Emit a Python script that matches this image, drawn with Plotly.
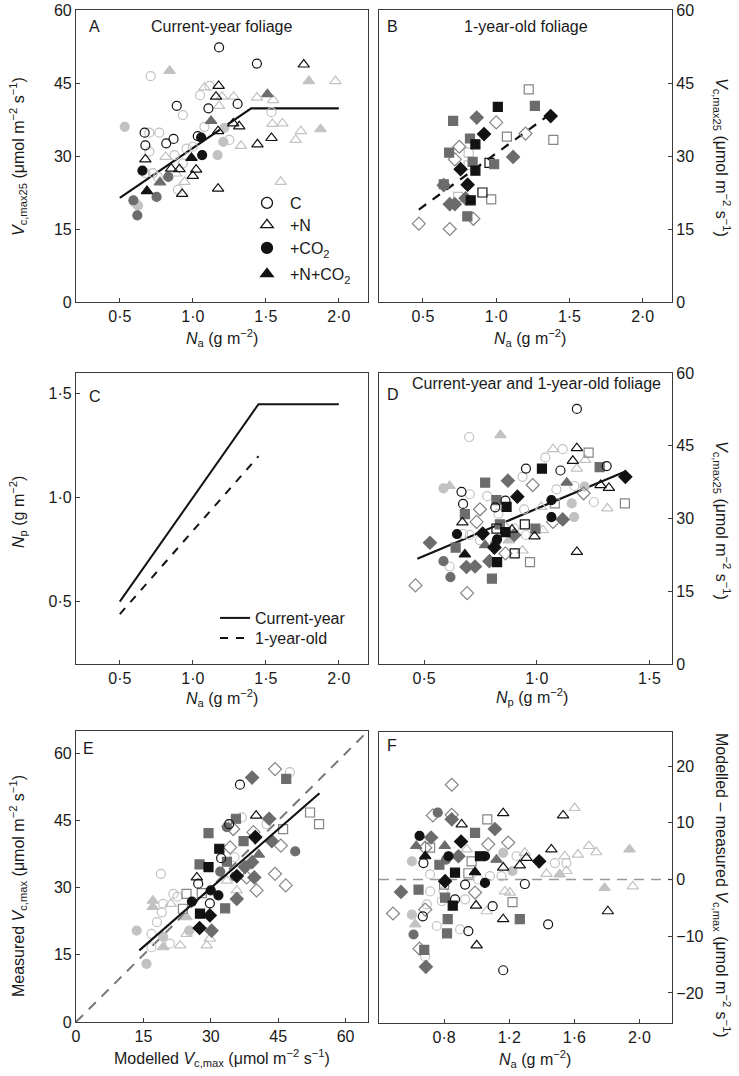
import plotly.graph_objects as go

W, H = 739, 1076

# ---------------- Panel A: current-year foliage, Vcmax25 vs Na ----------------
A_oc_k_x = [1.18, 0.89, 1.107, 1.307, 1.034, 0.67, 0.675, 0.818, 0.868, 1.439]
A_oc_k_y = [52.3, 40.3, 39.8, 40.7, 34.1, 34.8, 32.2, 32.6, 33.5, 49.0]
A_ot_k_x = [1.76, 1.177, 1.159, 1.277, 1.318, 1.173, 1.443, 1.539, 0.675, 0.852, 0.909, 0.927, 1.023, 1.0, 1.173]
A_ot_k_y = [48.8, 44.4, 42.2, 36.7, 36.1, 35.1, 32.4, 33.7, 29.3, 27.4, 27.3, 22.2, 27.2, 25.9, 23.3]
A_fc_k_x = [0.655, 1.057, 1.064]
A_fc_k_y = [27.0, 33.8, 30.2]
A_ft_k_x = [0.686, 0.991]
A_ft_k_y = [22.8, 29.6]
A_fc_d_x = [0.593, 0.62, 0.752, 0.832]
A_fc_d_y = [20.9, 17.8, 21.6, 25.7]
A_ft_d_x = [1.125, 1.511, 0.775]
A_ft_d_y = [37.2, 42.7, 24.6]
A_fc_l_x = [0.534, 0.625, 1.209, 1.17, 1.216]
A_fc_l_y = [36.0, 19.8, 32.9, 30.2, 35.8]
A_ft_l_x = [0.841, 1.795, 1.875]
A_ft_l_y = [47.5, 45.4, 35.5]
A_oc_l_x = [0.711, 1.114, 1.05, 0.932, 1.539, 0.702, 0.77, 0.957, 1.08, 1.25, 0.702, 0.727, 0.761, 0.898, 0.932, 0.875, 0.602, 1.0, 0.675]
A_oc_l_y = [46.4, 44.4, 42.5, 38.4, 39.0, 34.8, 34.8, 31.5, 36.0, 33.3, 30.9, 26.5, 25.7, 23.1, 28.5, 30.2, 20.4, 31.9, 26.5]
A_ot_l_x = [1.08, 1.18, 1.2, 1.28, 1.44, 1.55, 1.545, 1.614, 1.705, 1.74, 1.977, 1.602, 1.33, 0.814, 0.943, 0.886]
A_ot_l_y = [44.1, 40.3, 42.2, 42.2, 42.0, 41.5, 36.6, 36.7, 33.3, 35.1, 45.4, 24.7, 32.1, 29.8, 24.7, 26.4]
A_fit_x = [0.5, 1.4, 2.0]
A_fit_y = [21.4, 39.8, 39.8]

# ---------------- Panel B: 1-year-old foliage ----------------
B_os_m_x = [1.222, 1.073, 1.39, 0.966]
B_os_m_y = [43.7, 34.0, 33.3, 21.1]
B_os_k_x = [0.954, 0.906]
B_os_k_y = [28.6, 22.5]
B_os_l_x = [0.812, 0.812, 0.74]
B_os_l_y = [30.7, 28.1, 21.6]
B_od_x = [0.472, 0.683, 0.844, 1.0, 0.748, 0.718, 1.2]
B_od_y = [16.1, 15.0, 17.1, 36.9, 31.9, 29.3, 34.6]
B_fs_d_x = [0.706, 0.821, 0.679, 0.839, 0.986, 0.642, 1.264, 0.803]
B_fs_d_y = [37.2, 33.6, 30.7, 28.8, 28.3, 24.2, 40.3, 17.6]
B_fs_k_x = [1.011, 0.858, 0.858, 0.826]
B_fs_k_y = [40.1, 32.4, 27.0, 20.9]
B_fd_d_x = [0.867, 1.115, 0.642, 0.683, 0.718, 0.791]
B_fd_d_y = [37.9, 29.8, 24.0, 20.1, 20.1, 21.3]
B_fd_k_x = [1.372, 0.917, 0.757, 0.805]
B_fd_k_y = [38.2, 34.5, 27.3, 24.1]
B_fit_x = [0.472, 1.372]
B_fit_y = [19.0, 38.7]

# ---------------- Panel C: Np vs Na ----------------
C_cur_x = [0.5, 1.45, 2.0]
C_cur_y = [0.5, 1.45, 1.45]
C_old_x = [0.5, 1.45]
C_old_y = [0.44, 1.2]

# ---------------- Panel D: Vcmax25 vs Np ----------------
D_oc_k_x = [1.178, 0.952, 1.105, 1.31, 0.816, 0.861, 0.666, 0.673]
D_oc_k_y = [52.6, 40.3, 39.9, 40.8, 32.3, 33.7, 35.5, 33.0]
D_oc_l_x = [0.70, 0.937, 1.038, 1.115, 0.78, 0.703, 0.944, 1.087, 1.167, 1.253, 0.952, 0.748, 0.613, 0.83, 0.9, 0.703, 0.673]
D_oc_l_y = [46.8, 38.6, 42.6, 44.3, 34.6, 35.0, 31.9, 36.0, 36.7, 33.4, 26.6, 25.5, 20.1, 31.0, 27.9, 26.6, 26.8]
D_ot_k_x = [1.178, 1.16, 1.283, 1.32, 1.178, 0.67, 0.99, 0.89]
D_ot_k_y = [44.5, 41.9, 36.9, 36.3, 23.1, 29.2, 26.3, 27.7]
D_ot_l_x = [1.072, 1.178, 1.215, 1.313, 1.02, 1.027, 0.861, 0.937]
D_ot_l_y = [44.3, 40.3, 42.1, 32.1, 32.4, 27.6, 28.3, 23.4]
D_ft_l_x = [0.839, 0.613, 0.876]
D_ft_l_y = [47.2, 36.7, 25.5]
D_ft_d_x = [1.133, 0.771]
D_ft_d_y = [37.4, 24.5]
D_ft_k_x = [0.681]
D_ft_k_y = [22.6]
D_fc_k_x = [0.646, 1.065, 1.065, 0.824]
D_fc_k_y = [26.8, 33.8, 30.3, 25.7]
D_fc_d_x = [0.586, 0.617, 0.816]
D_fc_d_y = [21.2, 17.9, 24.8]
D_fc_l_x = [0.586, 1.155, 1.166, 1.212]
D_fc_l_y = [36.2, 33.1, 30.3, 36.6]
D_os_m_x = [1.23, 1.391, 0.97, 1.08]
D_os_m_y = [43.6, 33.1, 21.0, 33.1]
D_os_k_x = [0.947, 0.902, 0.821]
D_os_k_y = [28.8, 22.8, 27.9]
D_od_x = [0.462, 0.691, 0.982, 1.208, 0.748, 0.733, 0.861, 1.072]
D_od_y = [16.2, 14.6, 36.9, 35.2, 31.9, 29.3, 22.8, 29.3]
D_fs_d_x = [0.771, 0.821, 0.681, 0.836, 0.994, 0.64, 0.801, 1.279]
D_fs_d_y = [37.4, 33.8, 30.9, 28.8, 27.9, 24.0, 17.6, 40.6]
D_fs_k_x = [1.023, 0.866, 0.861, 0.824]
D_fs_k_y = [40.3, 32.4, 27.2, 21.0]
D_fd_d_x = [0.526, 0.872, 1.115, 0.688, 0.726, 0.79, 0.9]
D_fd_d_y = [25.0, 37.8, 29.8, 20.0, 20.1, 21.2, 26.6]
D_fd_k_x = [1.393, 0.914, 0.76, 0.812]
D_fd_k_y = [38.6, 34.5, 26.9, 24.0]
D_fit_x = [0.47, 1.393]
D_fit_y = [21.7, 39.7]

# ---------------- Panel E: measured vs modelled Vcmax ----------------
E_oc_k_x = [36.5, 27.2, 32.3, 34.1, 29.8]
E_oc_k_y = [53.0, 30.9, 36.6, 44.2, 26.5]
E_oc_l_x = [18.9, 22.6, 19.1, 18.0, 16.8, 16.8, 20.9, 21.7, 36.9, 42.4, 47.6, 35.3, 19.4]
E_oc_l_y = [33.1, 28.0, 24.5, 22.3, 19.7, 16.7, 17.5, 28.6, 45.7, 44.2, 55.8, 36.8, 26.4]
E_ot_k_x = [40.1, 26.9]
E_ot_k_y = [46.1, 32.3]
E_ot_l_x = [33.6, 21.1, 23.2, 29.1, 29.8, 35.8, 33.6, 24.6]
E_ot_l_y = [44.2, 26.4, 17.1, 17.1, 18.6, 29.4, 31.6, 19.7]
E_ft_l_x = [17.1, 17.1, 19.4, 24.6]
E_ft_l_y = [27.1, 25.7, 16.7, 23.4]
E_ft_d_x = [40.7]
E_ft_d_y = [37.4]
E_fc_l_x = [13.5, 15.7, 19.4, 25.2]
E_fc_l_y = [20.4, 13.0, 19.0, 20.4]
E_fc_d_x = [33.6, 32.1, 35.4, 48.8]
E_fc_d_y = [43.5, 33.6, 32.5, 38.1]
E_fc_k_x = [25.8, 30.0, 31.7]
E_fc_k_y = [26.9, 29.4, 28.3]
E_os_x = [52.1, 54.1, 46.1, 24.6, 23.8, 28.0]
E_os_y = [46.8, 44.2, 43.1, 28.6, 25.3, 28.8]
E_fs_d_x = [29.5, 27.5, 35.6, 37.3, 33.6, 33.2, 46.8]
E_fs_d_y = [42.2, 35.2, 45.4, 40.4, 35.8, 25.4, 54.3]
E_fs_k_x = [31.9, 29.5, 27.6]
E_fs_k_y = [38.7, 34.6, 24.2]
E_od_x = [44.3, 34.3, 39.5, 45.6, 44.3, 46.7, 40.2, 38.0, 35.0]
E_od_y = [56.5, 39.0, 42.4, 39.4, 33.1, 30.5, 29.4, 32.3, 43.1]
E_fd_d_x = [39.2, 43.0, 43.6, 39.2, 39.7, 35.8, 30.2, 37.6]
E_fd_d_y = [54.6, 45.4, 40.4, 35.7, 32.3, 27.5, 20.4, 34.6]
E_fd_k_x = [39.9, 27.5, 29.8, 35.8]
E_fd_k_y = [41.3, 21.0, 23.8, 32.6]
E_one_x = [0, 65]
E_one_y = [0, 65]
E_fit_x = [14.1, 54.2]
E_fit_y = [16.0, 51.1]

# ---------------- Panel F: residuals vs Na ----------------
F_od_x = [0.847, 0.731, 0.847, 1.071, 1.194, 0.99, 0.486, 0.649, 0.684, 0.684]
F_od_y = [16.7, 11.3, 11.4, 6.2, 6.5, -2.3, -6.0, -12.2, -5.3, 5.6]
F_fd_d_x = [0.847, 1.112, 0.72, 0.888, 0.535, 0.688]
F_fd_d_y = [10.6, 8.9, 7.4, 4.1, -2.2, -15.4]
F_fd_k_x = [0.904, 0.806, 1.384]
F_fd_k_y = [6.7, -0.3, 3.2]
F_oc_l_x = [1.48, 1.551, 1.245, 1.153, 0.714, 0.714, 0.796, 0.786, 0.929, 1.01, 0.755, 0.684, 0.898, 0.694, 1.082]
F_oc_l_y = [2.9, 2.9, 4.1, 0.6, 0.9, -2.1, -2.1, -3.8, -3.5, 0.0, -8.2, -13.6, -8.8, -4.4, 0.6]
F_oc_k_x = [0.673, 0.669, 0.867, 0.949, 1.098, 1.296, 1.439, 1.163, 0.929]
F_oc_k_y = [2.9, -6.5, -3.5, -9.1, -4.7, -0.8, -7.9, -16.0, -0.9]
F_fc_k_x = [0.649, 0.827, 1.051, 1.051]
F_fc_k_y = [7.7, 4.1, 4.1, -0.6]
F_fc_d_x = [0.761, 0.612, 0.812]
F_fc_d_y = [11.8, -9.7, 3.5]
F_fc_l_x = [0.602, 0.602, 1.163, 1.22]
F_fc_l_y = [3.2, -6.2, 4.7, 1.5]
F_ot_k_x = [1.163, 1.531, 1.459, 1.306, 1.265, 1.163, 1.806, 0.996, 1.163, 1.0, 0.908]
F_ot_k_y = [11.7, 11.3, 5.3, 3.8, 2.5, 2.1, -5.6, -4.6, -7.0, -11.6, 9.7]
F_ot_l_x = [1.602, 1.541, 1.622, 1.69, 1.735, 1.551, 1.429, 1.959, 1.173, 1.204, 1.061, 1.296, 0.939]
F_ot_l_y = [12.6, 4.1, 4.4, 5.9, 4.8, 1.5, 1.0, -1.2, -2.1, -2.3, -5.6, 4.7, 5.3]
F_ft_l_x = [1.939, 1.786, 1.51, 0.622]
F_ft_l_y = [5.3, -1.5, 0.9, -7.9]
F_ft_d_x = [0.629, 1.122, 0.804]
F_ft_d_y = [5.9, 3.5, 5.9]
F_ft_k_x = [0.684, 0.99]
F_ft_k_y = [4.1, 1.3]
F_os_x = [1.065, 0.969, 0.949, 1.22, 0.714, 0.8]
F_os_y = [10.6, 3.2, 1.1, -4.0, 5.6, -0.9]
F_fs_d_x = [0.99, 0.771, 0.643, 0.806, 0.822, 0.818, 0.678, 1.265]
F_fs_d_y = [8.2, 2.6, -1.8, -3.2, -7.0, -9.5, -12.4, -7.0]
F_fs_k_x = [0.867, 1.02, 0.853]
F_fs_k_y = [1.2, 4.1, -4.6]
F_zero_x = [0.4, 2.2]
F_zero_y = [0, 0]

# ---------------- tick labels ----------------
na_ticks = [0.5, 1.0, 1.5, 2.0]
na_labels = ["0·5", "1·0", "1·5", "2·0"]
v_ticks = [0, 15, 30, 45, 60]
v_labels = ["0", "15", "30", "45", "60"]
np_ticks = [0.5, 1.0, 1.5]
np_labels = ["0·5", "1·0", "1·5"]
f_xticks = [0.8, 1.2, 1.6, 2.0]
f_xlabels = ["0·8", "1·2", "1·6", "2·0"]
f_yticks = [-20, -10, 0, 10, 20]
f_ylabels = ["−20", "−10", "0", "10", "20"]

# legend labels
treat_names = ["C", "+N", "+CO<sub>2</sub>", "+N+CO<sub>2</sub>"]
age_names = ["Current-year", "1-year-old"]

# ---------------- styling ----------------
K = "#121212"
DG = "#6c6c6c"
MG = "#858585"
LG = "#c2c2c2"
FONT = "Liberation Sans, Arial, sans-serif"
FS = 16
SIZES = {"circle": 9, "circle-open": 9, "triangle-up": 10, "triangle-up-open": 10,
         "square": 9, "square-open": 9, "diamond": 10, "diamond-open": 10}

fig = go.Figure()


def pts(ax, xs, ys, symbol, color):
    fig.add_trace(go.Scatter(
        x=xs, y=ys, mode="markers", xaxis="x" + ax, yaxis="y" + ax, showlegend=False,
        marker=dict(symbol=symbol, size=SIZES[symbol], color=color,
                    line=dict(width=1.2, color=color)),
        hoverinfo="skip"))


def line(ax, xs, ys, color, width, dash="solid", name=None, legend=None):
    fig.add_trace(go.Scatter(
        x=xs, y=ys, mode="lines", xaxis="x" + ax, yaxis="y" + ax,
        line=dict(color=color, width=width, dash=dash),
        showlegend=name is not None, name=name, legend=legend, hoverinfo="skip"))


# Panel A (axis "")
line("", A_fit_x, A_fit_y, K, 2.2)
for xs, ys, s, c in [
    (A_oc_l_x, A_oc_l_y, "circle-open", LG), (A_ot_l_x, A_ot_l_y, "triangle-up-open", LG),
    (A_fc_l_x, A_fc_l_y, "circle", LG), (A_ft_l_x, A_ft_l_y, "triangle-up", LG),
    (A_fc_d_x, A_fc_d_y, "circle", DG), (A_ft_d_x, A_ft_d_y, "triangle-up", DG),
    (A_oc_k_x, A_oc_k_y, "circle-open", K), (A_ot_k_x, A_ot_k_y, "triangle-up-open", K),
    (A_fc_k_x, A_fc_k_y, "circle", K), (A_ft_k_x, A_ft_k_y, "triangle-up", K)]:
    pts("", xs, ys, s, c)

# Panel B
line("2", B_fit_x, B_fit_y, K, 2.2, dash="9px,8px")
for xs, ys, s, c in [
    (B_os_l_x, B_os_l_y, "square-open", LG), (B_od_x, B_od_y, "diamond-open", MG),
    (B_os_m_x, B_os_m_y, "square-open", MG), (B_os_k_x, B_os_k_y, "square-open", K),
    (B_fs_d_x, B_fs_d_y, "square", DG), (B_fd_d_x, B_fd_d_y, "diamond", DG),
    (B_fs_k_x, B_fs_k_y, "square", K), (B_fd_k_x, B_fd_k_y, "diamond", K)]:
    pts("2", xs, ys, s, c)

# Panel C (each line with its own legend box so spacing can match)
line("3", C_cur_x, C_cur_y, K, 2.0, name=age_names[0], legend="legend5")
line("3", C_old_x, C_old_y, K, 2.0, dash="8px,8px", name=age_names[1], legend="legend6")

# Panel D
line("4", D_fit_x, D_fit_y, K, 2.2)
for xs, ys, s, c in [
    (D_oc_l_x, D_oc_l_y, "circle-open", LG), (D_ot_l_x, D_ot_l_y, "triangle-up-open", LG),
    (D_fc_l_x, D_fc_l_y, "circle", LG), (D_ft_l_x, D_ft_l_y, "triangle-up", LG),
    (D_od_x, D_od_y, "diamond-open", MG), (D_os_m_x, D_os_m_y, "square-open", MG),
    (D_fc_d_x, D_fc_d_y, "circle", DG), (D_ft_d_x, D_ft_d_y, "triangle-up", DG),
    (D_fs_d_x, D_fs_d_y, "square", DG), (D_fd_d_x, D_fd_d_y, "diamond", DG),
    (D_oc_k_x, D_oc_k_y, "circle-open", K), (D_ot_k_x, D_ot_k_y, "triangle-up-open", K),
    (D_os_k_x, D_os_k_y, "square-open", K),
    (D_fc_k_x, D_fc_k_y, "circle", K), (D_ft_k_x, D_ft_k_y, "triangle-up", K),
    (D_fs_k_x, D_fs_k_y, "square", K), (D_fd_k_x, D_fd_k_y, "diamond", K)]:
    pts("4", xs, ys, s, c)

# Panel E
line("5", E_one_x, E_one_y, "#777777", 2.0, dash="10px,8px")
for xs, ys, s, c in [
    (E_oc_l_x, E_oc_l_y, "circle-open", LG), (E_ot_l_x, E_ot_l_y, "triangle-up-open", LG),
    (E_fc_l_x, E_fc_l_y, "circle", LG), (E_ft_l_x, E_ft_l_y, "triangle-up", LG),
    (E_od_x, E_od_y, "diamond-open", MG), (E_os_x, E_os_y, "square-open", MG),
    (E_fc_d_x, E_fc_d_y, "circle", DG), (E_ft_d_x, E_ft_d_y, "triangle-up", DG),
    (E_fs_d_x, E_fs_d_y, "square", DG), (E_fd_d_x, E_fd_d_y, "diamond", DG),
    (E_oc_k_x, E_oc_k_y, "circle-open", K), (E_ot_k_x, E_ot_k_y, "triangle-up-open", K),
    (E_fc_k_x, E_fc_k_y, "circle", K), (E_fs_k_x, E_fs_k_y, "square", K),
    (E_fd_k_x, E_fd_k_y, "diamond", K)]:
    pts("5", xs, ys, s, c)
line("5", E_fit_x, E_fit_y, K, 2.2)

# Panel F
line("6", F_zero_x, F_zero_y, "#999999", 1.6, dash="10px,7px")
for xs, ys, s, c in [
    (F_oc_l_x, F_oc_l_y, "circle-open", LG), (F_ot_l_x, F_ot_l_y, "triangle-up-open", LG),
    (F_fc_l_x, F_fc_l_y, "circle", LG), (F_ft_l_x, F_ft_l_y, "triangle-up", LG),
    (F_od_x, F_od_y, "diamond-open", MG), (F_os_x, F_os_y, "square-open", MG),
    (F_fc_d_x, F_fc_d_y, "circle", DG), (F_ft_d_x, F_ft_d_y, "triangle-up", DG),
    (F_fs_d_x, F_fs_d_y, "square", DG), (F_fd_d_x, F_fd_d_y, "diamond", DG),
    (F_oc_k_x, F_oc_k_y, "circle-open", K), (F_ot_k_x, F_ot_k_y, "triangle-up-open", K),
    (F_fc_k_x, F_fc_k_y, "circle", K), (F_ft_k_x, F_ft_k_y, "triangle-up", K),
    (F_fs_k_x, F_fs_k_y, "square", K), (F_fd_k_x, F_fd_k_y, "diamond", K)]:
    pts("6", xs, ys, s, c)

# Legend entries for panel A (treatment symbols), one legend box each
treat_syms = ["circle-open", "triangle-up-open", "circle", "triangle-up"]
for i, (nm, sym) in enumerate(zip(treat_names, treat_syms)):
    fig.add_trace(go.Scatter(x=[None], y=[None], mode="markers", name=nm,
                             legend="legend" if i == 0 else "legend%d" % (i + 1),
                             marker=dict(symbol=sym, size=11, color=K, line=dict(width=1.3, color=K))))


def px_dom(a, b, total, flip=False):
    if flip:
        return [1 - b / total, 1 - a / total]
    return [a / total, b / total]


AX = dict(showline=True, mirror=True, linecolor="#3a3a3a", linewidth=1.2, ticks="inside",
          ticklen=4, tickwidth=1.2, tickcolor="#3a3a3a", showgrid=False, zeroline=False,
          tickfont=dict(size=FS, color="#1a1a1a", family=FONT))


def xa(dom, rng, tv, tt, anchor):
    return dict(AX, domain=dom, range=rng, tickvals=tv, ticktext=tt, anchor=anchor)


def ya(dom, rng, tv, tt, anchor, side="left"):
    return dict(AX, domain=dom, range=rng, tickvals=tv, ticktext=tt, anchor=anchor, side=side)


def leg(x, y, iw=30):
    return dict(x=x / W, y=1 - y / H, xanchor="left", yanchor="middle", bgcolor="rgba(0,0,0,0)",
                font=dict(size=FS, family=FONT), itemwidth=iw, borderwidth=0)


xl, xr = px_dom(76, 368, W), px_dom(379, 672, W)
r1 = px_dom(10, 302, H, True)
r2 = px_dom(373, 664, H, True)
r3 = px_dom(731, 1022, H, True)

fig.update_layout(
    width=W, height=H, margin=dict(l=0, r=0, t=0, b=0, autoexpand=False),
    paper_bgcolor="white", plot_bgcolor="white",
    font=dict(family=FONT, size=FS, color="#1a1a1a"),
    xaxis=xa(xl, [0.2, 2.2], na_ticks, na_labels, "y"),
    yaxis=ya(r1, [0, 60], v_ticks, v_labels, "x"),
    xaxis2=xa(xr, [0.2, 2.2], na_ticks, na_labels, "y2"),
    yaxis2=ya(r1, [0, 60], v_ticks, v_labels, "x2", "right"),
    xaxis3=xa(xl, [0.2, 2.2], na_ticks, na_labels, "y3"),
    yaxis3=ya(r2, [0.2, 1.6], np_ticks, np_labels, "x3"),
    xaxis4=xa(xr, [0.3, 1.6], np_ticks, np_labels, "y4"),
    yaxis4=ya(r2, [0, 60], v_ticks, v_labels, "x4", "right"),
    xaxis5=xa(xl, [0, 65], v_ticks, v_labels, "y5"),
    yaxis5=ya(r3, [0, 65], v_ticks, v_labels, "x5"),
    xaxis6=xa(xr, [0.4, 2.2], f_xticks, f_xlabels, "y6"),
    yaxis6=ya(px_dom(732, 1023, H, True), [-25.3, 26], f_yticks, f_ylabels, "x6", "right"),
    legend=leg(244, 203, 36),
    legend2=leg(244, 225, 36),
    legend3=leg(244, 248, 36),
    legend4=leg(244, 274, 36),
    legend5=leg(215, 618),
    legend6=leg(215, 638),
)

anns = []


def ann(text, x, y, size=FS, angle=0, xanchor="center"):
    anns.append(dict(text=text, x=x / W, y=1 - y / H, xref="paper", yref="paper", showarrow=False,
                     textangle=angle, xanchor=xanchor, yanchor="middle",
                     font=dict(size=size, family=FONT, color="#1a1a1a")))


NA = "<i>N</i><sub>a</sub> (g m<sup>−2</sup>)"
NP = "<i>N</i><sub>p</sub> (g m<sup>−2</sup>)"
VC25 = "<i>V</i><sub>c,max25</sub> (μmol m<sup>−2</sup> s<sup>−1</sup>)"

# panel letters and titles
ann("A", 87, 27, xanchor="left")
ann("Current-year foliage", 222, 27)
ann("B", 385, 27, xanchor="left")
ann("1-year-old foliage", 526, 27)
ann("C", 87, 397, xanchor="left")
ann("D", 385, 394, xanchor="left")
ann("Current-year and 1-year-old foliage", 536, 383)
ann("E", 81, 748, xanchor="left")
ann("F", 385, 745, xanchor="left")

# axis titles
ann(NA, 222, 338)
ann(NA, 530, 338)
ann(NA, 222, 698)
ann(NP, 532, 697)
ann("Modelled <i>V</i><sub>c,max</sub> (μmol m<sup>−2</sup> s<sup>−1</sup>)", 222, 1058)
ann(NA, 535, 1059)
ann(VC25, 18, 157, angle=-90)
ann(VC25, 722, 157, angle=90)
ann(NP, 18, 512, angle=-90)
ann(VC25, 722, 520, angle=90)
ann("Measured <i>V</i><sub>c,max</sub> (μmol m<sup>−2</sup> s<sup>−1</sup>)", 18, 886, angle=-90)
ann("Modelled – measured <i>V</i><sub>c,max</sub> (μmol m<sup>−2</sup> s<sup>−1</sup>)", 722, 885, angle=90)

fig.update_layout(annotations=anns)
fig.write_html("out.html", config={"displayModeBar": False},
               post_script="document.body.style.margin='0';document.body.style.overflow='hidden';")
